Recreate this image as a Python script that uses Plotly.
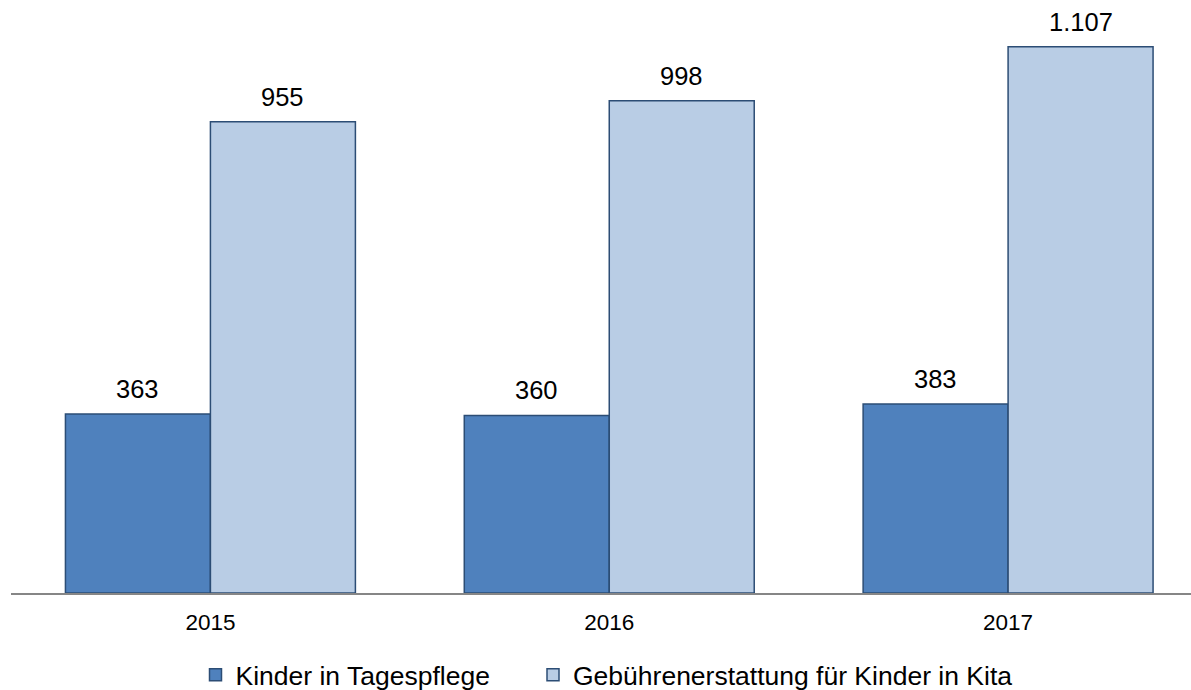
import plotly.graph_objects as go

years = ["2015", "2016", "2017"]
tagespflege = [363, 360, 383]
kita = [955, 998, 1107]
series_names = ["Kinder in Tagespflege", "Gebührenerstattung für Kinder in Kita"]

FONT = "Liberation Sans, Arial, sans-serif"
COLORS = ["#4F81BD", "#B9CDE5"]
EDGE = "#2C4D75"
BARGAP = 0.273
W, H = 1191, 690

fig = go.Figure()
for k, (name, vals, col) in enumerate(zip(series_names, [tagespflege, kita], COLORS)):
    fig.add_trace(go.Bar(
        x=years, y=vals, name=name,
        marker=dict(color=col, line=dict(color=EDGE, width=1.5)),
        legend="legend" if k == 0 else "legend2",
    ))

# value labels above bars (from data arrays)
px_per_cat = 399.0
bar_px = (1 - BARGAP) / 2 * px_per_cat
for k, vals in enumerate([tagespflege, kita]):
    shift = (k - 0.5) * bar_px
    for i, v in enumerate(vals):
        label = f"{v:,}".replace(",", ".")
        fig.add_annotation(x=i, y=v, xref="x", yref="y", text=label, showarrow=False,
                           xanchor="center", yanchor="bottom", xshift=shift, yshift=9,
                           font=dict(size=25.5, color="#000000", family=FONT))

legend_common = dict(orientation="h", xanchor="left", xref="container",
                     y=1 - 675 / H, yanchor="middle", yref="container",
                     font=dict(size=26.5, family=FONT), itemwidth=30,
                     bgcolor="rgba(0,0,0,0)")

fig.update_layout(
    width=W, height=H,
    margin=dict(l=10.5, r=0, t=0, b=97, pad=0, autoexpand=False),
    paper_bgcolor="white", plot_bgcolor="white",
    barmode="group", bargap=BARGAP, bargroupgap=0,
    font=dict(family=FONT, color="#000000"),
    showlegend=True,
    legend=dict(x=195.5 / W, **legend_common),
    legend2=dict(x=533 / W, **legend_common),
    xaxis=dict(type="category", range=[-0.5, 2.4586], showline=True, linecolor="#868686",
               linewidth=2, ticks="", showgrid=False, zeroline=False, ticklabelstandoff=8,
               tickfont=dict(size=22.5, family=FONT, color="#000000")),
    yaxis=dict(range=[0, 1202], visible=False, showgrid=False, zeroline=False),
)

fig.write_html("out.html", config={"displayModeBar": False},
               post_script="document.body.style.margin='0';document.body.style.overflow='hidden';")
